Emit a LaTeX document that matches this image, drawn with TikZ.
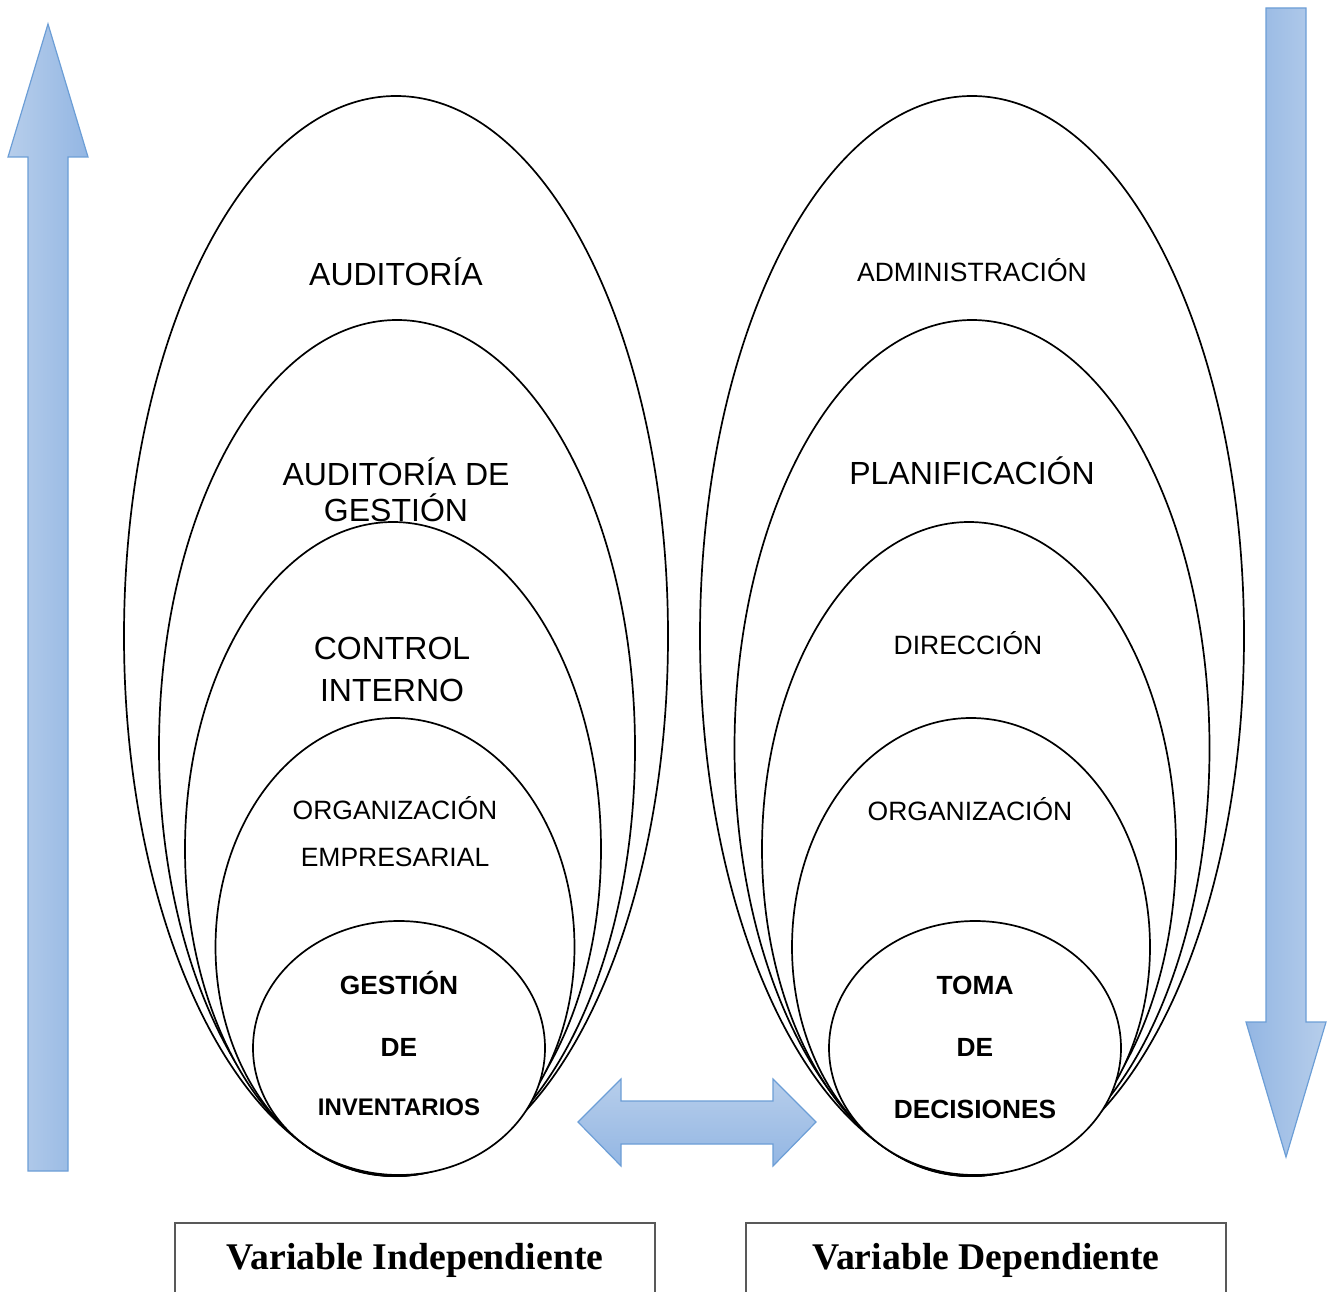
\documentclass[tikz,border=0pt]{standalone}
\usepackage{fontspec}
\setmainfont{Liberation Sans}
\newfontfamily\serifbold{Liberation Serif}
\usepackage{tikz}
\usetikzlibrary{shapes.geometric}
\definecolor{flechaClara}{RGB}{183,206,235}
\definecolor{flechaOscura}{RGB}{147,182,227}
\definecolor{flechaBorde}{RGB}{108,158,214}
\newcommand{\tam}[2]{\fontsize{#1}{#2}\selectfont}

\begin{document}
\begin{tikzpicture}[x=1pt, y=-1pt]
  \tikzset{capa/.style={ellipse, draw, fill=white, line width=1.7pt, inner sep=0pt},
    texto/.style={anchor=base, inner sep=0pt, font=\tam{26.5}{31}},
    grande/.style={texto, font=\tam{32}{38}},
    negrita/.style={texto, font=\tam{26.3}{31}\bfseries},
    flecha/.style={draw=flechaBorde, line width=1.2pt, line join=miter},
    rotulo/.style={anchor=base, inner sep=0pt, font=\serifbold\tam{37.7}{44}\bfseries}}
  \useasboundingbox (0,0) rectangle (1338,1292);
  % flechas
  \path[flecha, left color=flechaClara, right color=flechaOscura]
    (28,1171) -- (28,157) -- (8,157) -- (48,24) -- (88,157) -- (68,157) -- (68,1171) -- cycle;
  \path[flecha, left color=flechaOscura, right color=flechaClara]
    (1266,8) -- (1306,8) -- (1306,1022) -- (1326,1022) -- (1286,1157) -- (1246,1022) -- (1266,1022) -- cycle;
  \path[flecha, top color=flechaClara, bottom color=flechaOscura]
    (578,1122) -- (621,1079) -- (621,1101) -- (773,1101) -- (773,1079) -- (816,1122)
    -- (773,1166) -- (773,1144) -- (621,1144) -- (621,1166) -- cycle;
  % variable independiente
  \node[capa, minimum width=544pt, minimum height=1080pt] (auditoria) at (396,636) {};
  \node[capa, minimum width=476pt, minimum height=856pt] (gestion) at (397,748) {};
  \node[capa, minimum width=416pt, minimum height=654pt] (control) at (393,849) {};
  \node[capa, minimum width=359pt, minimum height=458pt] (orgEmp) at (395,947) {};
  \node[capa, minimum width=292pt, minimum height=254pt] (inventarios) at (399,1048) {};
  % variable dependiente
  \node[capa, minimum width=544pt, minimum height=1080pt] (admin) at (972,636) {};
  \node[capa, minimum width=475pt, minimum height=856pt] (planif) at (972,748) {};
  \node[capa, minimum width=414pt, minimum height=654pt] (direccion) at (969,849) {};
  \node[capa, minimum width=358pt, minimum height=458pt] (organiz) at (971,947) {};
  \node[capa, minimum width=292pt, minimum height=254pt] (decisiones) at (975,1048) {};
  % textos
  \node[grande] (tAud) at (396,285) {AUDITORÍA};
  \node[grande] (tGes1) at (396,485) {AUDITORÍA DE};
  \node[grande] (tGes2) at (396,521) {GESTIÓN};
  \node[grande] (tCon1) at (392,659) {CONTROL};
  \node[grande] (tCon2) at (392,701) {INTERNO};
  \node[texto] (tOrg1) at (395,819) {ORGANIZACIÓN};
  \node[texto] (tOrg2) at (395,866) {EMPRESARIAL};
  \node[negrita] (tInv1) at (399,994) {GESTIÓN};
  \node[negrita] (tInv2) at (399,1056) {DE};
  \node[negrita, font=\tam{24}{29}\bfseries] (tInv3) at (399,1115) {INVENTARIOS};
  \node[texto] (tAdm) at (972,281) {ADMINISTRACIÓN};
  \node[grande] (tPla) at (972,484) {PLANIFICACIÓN};
  \node[texto] (tDir) at (968,654) {DIRECCIÓN};
  \node[texto] (tOrg) at (970,820) {ORGANIZACIÓN};
  \node[negrita] (tDec1) at (975,994) {TOMA};
  \node[negrita] (tDec2) at (975,1056) {DE};
  \node[negrita] (tDec3) at (975,1118) {DECISIONES};
  % cuadros inferiores
  \draw[line width=1.2pt, black!65] (175,1292) -- (175,1223) -- (655,1223) -- (655,1292);
  \draw[line width=1.2pt, black!65] (746,1292) -- (746,1223) -- (1226,1223) -- (1226,1292);
  \node[rotulo] (vInd) at (415,1269) {Variable Independiente};
  \node[rotulo] (vDep) at (986,1269) {Variable Dependiente};
\end{tikzpicture}
\end{document}
